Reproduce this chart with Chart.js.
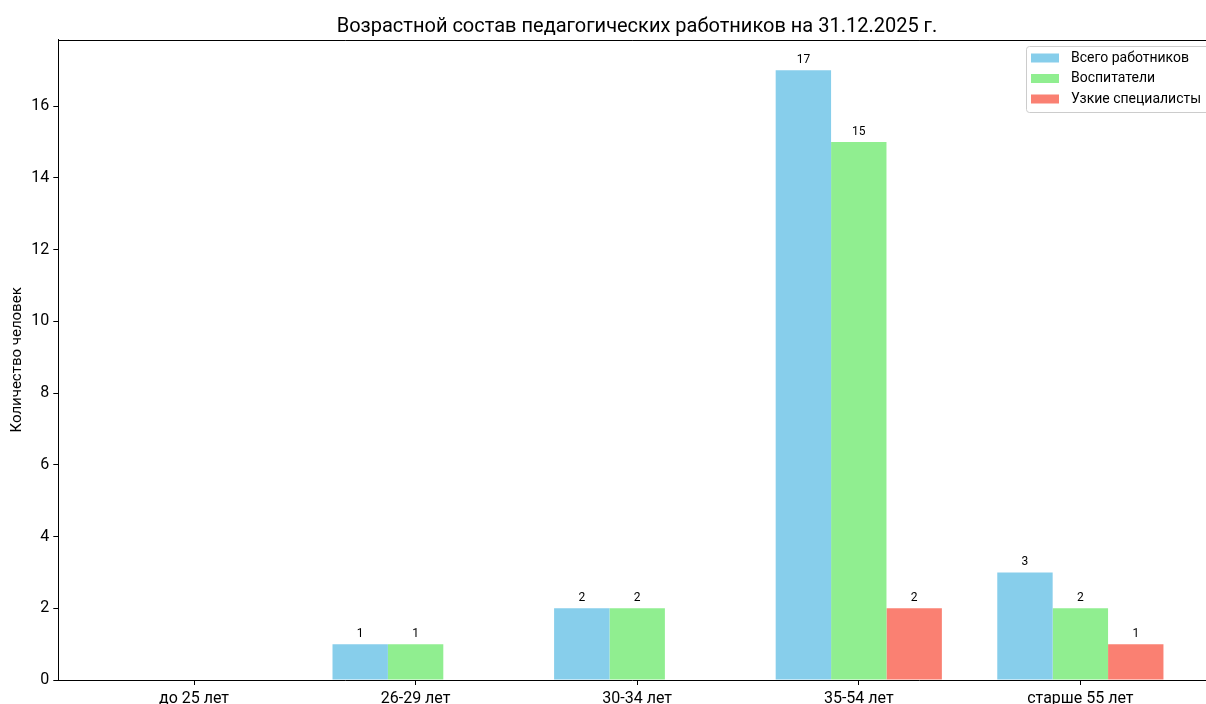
<!DOCTYPE html>
<html>
<head>
<meta charset="utf-8">
<script src="https://cdn.jsdelivr.net/npm/chart.js@4.4.1/dist/chart.umd.min.js"></script>
<style>
  html, body { margin: 0; padding: 0; background: #fff; overflow: hidden; }
  canvas { display: block; }
</style>
</head>
<body>
<canvas id="c" width="1206" height="704"></canvas>
<script>
const titleText = "Возрастной состав педагогических работников на 31.12.2025 г.";
const yTitle = "Количество человек";
const categories = ["до 25 лет", "26-29 лет", "30-34 лет", "35-54 лет", "старше 55 лет"];
const seriesNames = ["Всего работников", "Воспитатели", "Узкие специалисты"];
const totalWorkers = [0, 1, 2, 17, 3];
const educators = [0, 1, 2, 15, 2];
const specialists = [0, 0, 0, 2, 1];
const yTicks = [0, 2, 4, 6, 8, 10, 12, 14, 16];
const colors = ["#87CEEB", "#90EE90", "#FA8072"];

const FONT = "Roboto, 'DejaVu Sans', sans-serif";

const toPoints = arr => arr.map((v, i) => ({ x: i, y: v }));

const extrasPlugin = {
  id: 'extras',
  afterDatasetsDraw(chart) {
    const ctx = chart.ctx;
    const area = chart.chartArea;
    ctx.save();
    // value labels
    ctx.fillStyle = '#000';
    ctx.font = "12px " + FONT;
    ctx.textAlign = 'center';
    ctx.textBaseline = 'alphabetic';
    chart.data.datasets.forEach((ds, di) => {
      const meta = chart.getDatasetMeta(di);
      meta.data.forEach((bar, i) => {
        const v = ds.data[i].y;
        if (v > 0) {
          ctx.fillText(String(v), bar.x, bar.y - 7);
        }
      });
    });
    // top spine
    ctx.strokeStyle = '#000';
    ctx.lineWidth = 1;
    ctx.beginPath();
    ctx.moveTo(area.left, Math.round(area.top) + 0.5);
    ctx.lineTo(chart.width, Math.round(area.top) + 0.5);
    ctx.stroke();
    // title centered on full axes (right spine lies beyond the visible edge)
    ctx.font = "20px " + FONT;
    ctx.textAlign = 'center';
    ctx.textBaseline = 'alphabetic';
    ctx.fillStyle = '#000';
    ctx.fillText(titleText, 637, 32);
    // legend
    const lx = 1026.5, ly = 46.5, lw = 200, lh = 66;
    ctx.fillStyle = 'rgba(255,255,255,0.8)';
    ctx.strokeStyle = '#cccccc';
    ctx.lineWidth = 1;
    ctx.beginPath();
    if (ctx.roundRect) ctx.roundRect(lx, ly, lw, lh, 3); else ctx.rect(lx, ly, lw, lh);
    ctx.fill();
    ctx.stroke();
    ctx.font = "14px " + FONT;
    ctx.textAlign = 'left';
    ctx.textBaseline = 'middle';
    chart.data.datasets.forEach((ds, di) => {
      const rowY = 58 + di * 20.5;
      ctx.fillStyle = ds.backgroundColor;
      ctx.fillRect(1031, rowY - 4.5, 28, 9);
      ctx.fillStyle = '#000';
      ctx.fillText(ds.label, 1071, rowY);
    });
    ctx.restore();
  }
};

new Chart(document.getElementById('c'), {
  type: 'bar',
  data: {
    datasets: [
      { label: seriesNames[0], data: toPoints(totalWorkers), backgroundColor: colors[0] },
      { label: seriesNames[1], data: toPoints(educators), backgroundColor: colors[1] },
      { label: seriesNames[2], data: toPoints(specialists), backgroundColor: colors[2] }
    ]
  },
  options: {
    responsive: false,
    animation: false,
    devicePixelRatio: 1,
    layout: { padding: { top: 39.7, right: 0, bottom: 0, left: 0 } },
    datasets: { bar: { categoryPercentage: 0.75, barPercentage: 1.0, borderWidth: 0 } },
    plugins: {
      legend: { display: false },
      title: { display: false },
      tooltip: { enabled: false }
    },
    scales: {
      x: {
        type: 'linear',
        min: -0.6125,
        max: 4.567,
        offset: false,
        afterBuildTicks(scale) {
          scale.ticks = categories.map((c, i) => ({ value: i }));
        },
        afterFit(scale) { scale.height = 24; },
        ticks: {
          autoSkip: false,
          maxRotation: 0,
          minRotation: 0,
          padding: 4,
          color: '#000',
          font: { family: FONT, size: 16 },
          callback: (v) => categories[v]
        },
        grid: { display: true, drawOnChartArea: false, offset: false, tickLength: 5, color: '#000', tickWidth: 1 },
        border: { display: true, color: '#000', width: 1 }
      },
      y: {
        min: 0,
        max: 17.85,
        afterBuildTicks(scale) {
          scale.ticks = yTicks.map(v => ({ value: v }));
        },
        afterFit(scale) { scale.width = 58.3; },
        ticks: {
          padding: 4,
          color: '#000',
          font: { family: FONT, size: 16 },
          includeBounds: false
        },
        title: {
          display: true,
          text: yTitle,
          color: '#000',
          font: { family: FONT, size: 15 },
          padding: { top: 8, bottom: 0 }
        },
        grid: { display: true, drawOnChartArea: false, tickLength: 5, color: '#000', tickWidth: 1 },
        border: { display: true, color: '#000', width: 1 }
      }
    }
  },
  plugins: [extrasPlugin]
});
</script>
</body>
</html>
